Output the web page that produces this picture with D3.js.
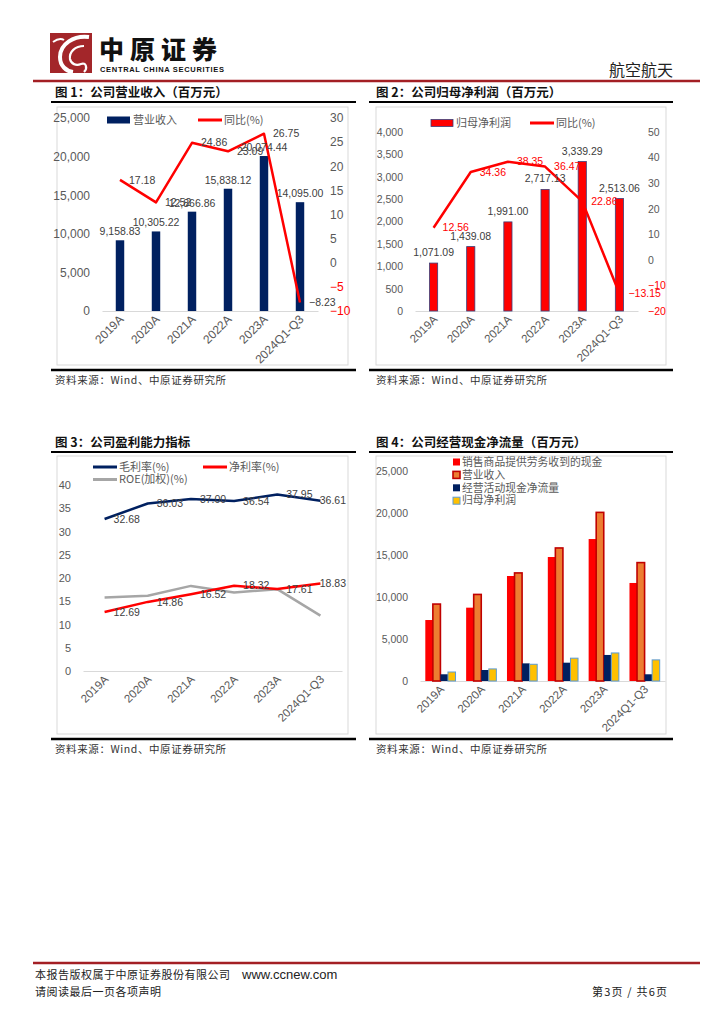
<!DOCTYPE html>
<html><head><meta charset="utf-8">
<script src="https://cdn.jsdelivr.net/npm/d3@7"></script>
<style>
body{margin:0;background:#fff;}
svg{display:block;}
</style></head><body>
<svg id="page" width="724" height="1024"></svg>
<script>
// ---------- DATA ----------
const categories = ["2019A","2020A","2021A","2022A","2023A","2024Q1-Q3"];
const revenue = [9158.83,10305.22,12866.86,15838.12,20074.44,14095.00];
const revenueYoY = [17.18,12.52,24.86,23.09,26.75,-8.23];
const netProfit = [1071.09,1439.08,1991.00,2717.13,3339.29,2513.06];
const netProfitYoY = [12.56,34.36,38.35,36.47,22.86,-13.15];
const grossMargin = [32.68,36.03,37.00,36.54,37.95,36.61];
const netMargin = [12.69,14.86,16.52,18.32,17.61,18.83];
const roe = [15.8,16.2,18.3,16.9,17.6,11.9];
const salesCash = [7260,8730,12500,14760,16900,11670];
const opCashFlow = [800,1310,2100,2180,3100,800];
const ticks1Left = [0,5000,10000,15000,20000,25000];
const ticks1Right = [-10,-5,0,5,10,15,20,25,30];
const ticks2Left = [0,500,1000,1500,2000,2500,3000,3500,4000];
const ticks2Right = [-20,-10,0,10,20,30,40,50];
const ticks3 = [0,5,10,15,20,25,30,35,40];
const ticks4 = [0,5000,10000,15000,20000,25000];

const SANS = '"Liberation Sans", Arial, sans-serif';
const CJK = '"Noto Sans CJK SC", sans-serif';
const NAVY = "#002060", RED = "#FF0000", GRAY = "#A6A6A6", TXT = "#595959", LBL = "#404040";
const fmt2 = d3.format(",.2f"), fmtInt = d3.format(",");

const svg = d3.select("#page");
svg.append("rect").attr("width",724).attr("height",1024).attr("fill","#fff");

// ---------- HEADER ----------
svg.append("rect").attr("x",50).attr("y",33).attr("width",42).attr("height",40).attr("fill","#A3262A");
svg.append("path").attr("d","M89 37 C74 35 60 44 60 57 C60 66 66 71 73 72").attr("fill","none").attr("stroke","#fff").attr("stroke-width",4);
svg.append("path").attr("d","M84 46 C75 46 69 52 70 59 C71 64 76 66 81 64 C86 62 88 68 84 72").attr("fill","none").attr("stroke","#fff").attr("stroke-width",2.2);
svg.append("path").attr("d","M53 42 C57 39 61 38 64 40").attr("fill","none").attr("stroke","#fff").attr("stroke-width",2);
svg.append("text").attr("x",99).attr("y",59).text("中原证券")
  .style("font-family",CJK).style("font-size","25px").style("font-weight",900).style("letter-spacing","6px").attr("fill","#111");
svg.append("text").attr("x",100).attr("y",72).text("CENTRAL CHINA SECURITIES").attr("textLength",124)
  .style("font-family",SANS).style("font-size","7.5px").style("font-weight","bold").attr("fill","#111");
svg.append("text").attr("x",609).attr("y",76).text("航空航天")
  .style("font-family",CJK).style("font-size","16px").attr("fill","#222");
svg.append("line").attr("x1",33).attr("x2",700).attr("y1",81).attr("y2",81).attr("stroke","#A31F24").attr("stroke-width",2.5);

// ---------- FOOTER ----------
svg.append("line").attr("x1",33).attr("x2",700).attr("y1",963).attr("y2",963).attr("stroke","#A31F24").attr("stroke-width",2.5);
svg.append("text").attr("x",35).attr("y",979).text("本报告版权属于中原证券股份有限公司")
  .style("font-family",CJK).style("font-size","11px").style("letter-spacing","0.5px").attr("fill","#222");
svg.append("text").attr("x",242).attr("y",979).text("www.ccnew.com")
  .style("font-family",SANS).style("font-size","13px").attr("fill","#222");
svg.append("text").attr("x",35).attr("y",996).text("请阅读最后一页各项声明")
  .style("font-family",CJK).style("font-size","11px").style("letter-spacing","0.5px").attr("fill","#222");
svg.append("text").attr("x",592).attr("y",996).text("第3页 / 共6页")
  .style("font-family",CJK).style("font-size","11px").style("letter-spacing","1.2px").attr("fill","#222");

// ---------- PANEL FRAMES ----------
function panel(opt){
  svg.append("text").attr("x",opt.tx).attr("y",opt.ty).text(opt.title)
    .style("font-family",CJK).style("font-size","12.5px").style("font-weight","bold").attr("fill","#111");
  svg.append("line").attr("x1",opt.lx1).attr("x2",opt.lx2).attr("y1",opt.ty+5).attr("y2",opt.ty+5).attr("stroke","#000").attr("stroke-width",2);
  svg.append("rect").attr("x",opt.fx1).attr("y",opt.fy1).attr("width",opt.fx2-opt.fx1).attr("height",opt.fy2-opt.fy1)
    .attr("fill","#fff").attr("stroke","#D9D9D9").attr("stroke-width",1);
  svg.append("line").attr("x1",opt.lx1).attr("x2",opt.lx2).attr("y1",opt.fy2+5).attr("y2",opt.fy2+5).attr("stroke","#000").attr("stroke-width",2.5);
  svg.append("text").attr("x",opt.tx).attr("y",opt.fy2+19).text("资料来源：Wind、中原证券研究所")
    .style("font-family",CJK).style("font-size","10.5px").style("letter-spacing","0.6px").attr("fill","#333");
}
panel({tx:55,ty:97,title:"图 1：公司营业收入（百万元）",lx1:51,lx2:356,fx1:57,fx2:348,fy1:107,fy2:365});
panel({tx:376,ty:97,title:"图 2：公司归母净利润（百万元）",lx1:369,lx2:673,fx1:376,fx2:666,fy1:107,fy2:365});
panel({tx:55,ty:447,title:"图 3：公司盈利能力指标",lx1:51,lx2:356,fx1:57,fx2:348,fy1:456,fy2:734});
panel({tx:376,ty:447,title:"图 4：公司经营现金净流量（百万元）",lx1:369,lx2:673,fx1:376,fx2:666,fy1:456,fy2:734});

// ---------- HELPERS ----------
function styleText(sel,size,fill){
  sel.style("font-family",SANS).style("font-size",size+"px").attr("fill",fill);
}
function leftAxis(scale,ticks,x,size,fmt){
  const g = svg.append("g").attr("transform",`translate(${x},0)`)
    .call(d3.axisLeft(scale).tickValues(ticks).tickSize(0).tickPadding(0).tickFormat(fmt));
  g.select(".domain").remove();
  styleText(g.selectAll("text"),size,TXT);
  return g;
}
function rightAxis(scale,ticks,x,size,redNeg){
  const g = svg.append("g").attr("transform",`translate(${x},0)`)
    .call(d3.axisRight(scale).tickValues(ticks).tickSize(0).tickPadding(0));
  g.select(".domain").remove();
  styleText(g.selectAll("text"),size,TXT);
  if(redNeg) g.selectAll("text").attr("fill",d=>d<0?RED:TXT);
  return g;
}
function xAxis(scale,y0,size){
  const g = svg.append("g").attr("transform",`translate(0,${y0})`)
    .call(d3.axisBottom(scale).tickSize(0).tickSizeOuter(0));
  g.select(".domain").attr("stroke","#D9D9D9");
  g.selectAll("text").attr("y",0).attr("dy",0).attr("x",0)
    .attr("transform","translate(4,9) rotate(-45)").style("text-anchor","end");
  styleText(g.selectAll("text"),size,TXT);
  return g;
}
function lineLabels(xs,ys,vals,fill,size,maxX,fmt){
  const t = svg.append("g").selectAll("text").data(vals).join("text")
    .attr("x",(d,i)=>xs(categories[i])+9).attr("y",(d,i)=>ys(d)).attr("dy","0.35em")
    .text(d=>fmt(d));
  styleText(t,size,fill);
  t.each(function(){
    const w = this.getComputedTextLength();
    const x = +this.getAttribute("x");
    if(x+w>maxX) this.setAttribute("x",maxX-w);
  });
}
function legendLine(x,y,color,label,size){
  svg.append("line").attr("x1",x).attr("x2",x+24).attr("y1",y).attr("y2",y).attr("stroke",color).attr("stroke-width",3);
  svg.append("text").attr("x",x+26).attr("y",y).attr("dy","0.35em").text(label)
    .style("font-family",CJK).style("font-size",size+"px").attr("fill",TXT);
}

// ---------- CHART 1 ----------
{
  const x = d3.scalePoint().domain(categories).range([102,318]).padding(0.5);
  const yL = d3.scaleLinear().domain([0,25000]).range([311,118]);
  const yR = d3.scaleLinear().domain([-10,30]).range([311,118]);
  const bw = x.step()*0.235;
  leftAxis(yL,ticks1Left,90,12,fmtInt);
  rightAxis(yR,ticks1Right,330,12,true);
  xAxis(x,311,12);
  svg.append("g").selectAll("rect").data(revenue).join("rect")
    .attr("x",(d,i)=>x(categories[i])-bw/2).attr("y",d=>yL(d))
    .attr("width",bw).attr("height",d=>yL(0)-yL(d)).attr("fill",NAVY);
  svg.append("path").datum(revenueYoY)
    .attr("d",d3.line().x((d,i)=>x(categories[i])).y(d=>yR(d)))
    .attr("fill","none").attr("stroke",RED).attr("stroke-width",2.5).attr("stroke-linejoin","round");
  const bl = svg.append("g").selectAll("text").data(revenue).join("text")
    .attr("x",(d,i)=>x(categories[i])).attr("y",d=>yL(d)-5).attr("text-anchor","middle").text(d=>fmt2(d));
  styleText(bl,10.5,LBL);
  lineLabels(x,yR,revenueYoY,LBL,10.5,346,d3.format(".2f"));
  svg.append("rect").attr("x",107).attr("y",116.5).attr("width",23).attr("height",7).attr("fill",NAVY);
  svg.append("text").attr("x",133).attr("y",120).attr("dy","0.35em").text("营业收入")
    .style("font-family",CJK).style("font-size","11px").attr("fill",TXT);
  legendLine(198,120,RED,"同比(%)",11);
}

// ---------- CHART 2 ----------
{
  const x = d3.scalePoint().domain(categories).range([415,638]).padding(0.5);
  const yL = d3.scaleLinear().domain([0,4000]).range([311,132]);
  const yR = d3.scaleLinear().domain([-20,50]).range([311,132]);
  const bw = x.step()*0.22;
  leftAxis(yL,ticks2Left,403,10.5,fmtInt);
  rightAxis(yR,ticks2Right,648,10.5,true);
  xAxis(x,311,11.5);
  svg.append("g").selectAll("rect").data(netProfit).join("rect")
    .attr("x",(d,i)=>x(categories[i])-bw/2).attr("y",d=>yL(d))
    .attr("width",bw).attr("height",d=>yL(0)-yL(d)).attr("fill",RED)
    .attr("stroke","#3A3F7A").attr("stroke-width",0.8);
  svg.append("path").datum(netProfitYoY)
    .attr("d",d3.line().x((d,i)=>x(categories[i])).y(d=>yR(d)))
    .attr("fill","none").attr("stroke",RED).attr("stroke-width",2.5).attr("stroke-linejoin","round");
  const bl = svg.append("g").selectAll("text").data(netProfit).join("text")
    .attr("x",(d,i)=>x(categories[i])).attr("y",d=>yL(d)-7).attr("text-anchor","middle").text(d=>fmt2(d));
  styleText(bl,10.5,LBL);
  lineLabels(x,yR,netProfitYoY,RED,10.5,664,d3.format(".2f"));
  svg.append("rect").attr("x",431).attr("y",119.5).attr("width",22).attr("height",7).attr("fill",RED).attr("stroke","#3A3F7A").attr("stroke-width",0.8);
  svg.append("text").attr("x",456).attr("y",123).attr("dy","0.35em").text("归母净利润")
    .style("font-family",CJK).style("font-size","11px").attr("fill",TXT);
  legendLine(530,123,RED,"同比(%)",11);
}

// ---------- CHART 3 ----------
{
  const x = d3.scalePoint().domain(categories).range([83,342]).padding(0.5);
  const y = d3.scaleLinear().domain([0,40]).range([671,485]);
  leftAxis(y,ticks3,71,11,d3.format("d"));
  xAxis(x,671,11.5);
  const series = [[roe,GRAY],[netMargin,RED],[grossMargin,NAVY]];
  series.forEach(([vals,col])=>{
    svg.append("path").datum(vals)
      .attr("d",d3.line().x((d,i)=>x(categories[i])).y(d=>y(d)))
      .attr("fill","none").attr("stroke",col).attr("stroke-width",2.5).attr("stroke-linejoin","round");
  });
  lineLabels(x,y,grossMargin,LBL,10.5,346,d3.format(".2f"));
  lineLabels(x,y,netMargin,LBL,10.5,346,d3.format(".2f"));
  legendLine(93,467,NAVY,"毛利率(%)",11);
  legendLine(203,467,RED,"净利率(%)",11);
  legendLine(93,479.5,GRAY,"ROE(加权)(%)",11);
}

// ---------- CHART 4 ----------
{
  const x = d3.scalePoint().domain(categories).range([420,665]).padding(0.5);
  const y = d3.scaleLinear().domain([0,25000]).range([681,471]);
  const seriesNames = ["销售商品提供劳务收到的现金","营业收入","经营活动现金净流量","归母净利润"];
  const seriesVals = [salesCash,revenue,opCashFlow,netProfit];
  const fills = [RED,"#ED7D31",NAVY,"#FFC000"];
  const strokes = ["none","#C00000","none","#5B9BD5"];
  const sw = [0,1.6,0,1];
  const inner = d3.scaleBand().domain(seriesNames).range([-x.step()*0.37,x.step()*0.37]);
  leftAxis(y,ticks4,408,10.5,fmtInt);
  xAxis(x,681,11.5);
  seriesNames.forEach((name,k)=>{
    svg.append("g").selectAll("rect").data(seriesVals[k]).join("rect")
      .attr("x",(d,i)=>x(categories[i])+inner(name)).attr("y",d=>y(d))
      .attr("width",inner.bandwidth()).attr("height",d=>y(0)-y(d))
      .attr("fill",fills[k]).attr("stroke",strokes[k]).attr("stroke-width",sw[k]);
  });
  seriesNames.forEach((name,k)=>{
    const ly = 462 + k*12.9;
    svg.append("rect").attr("x",453).attr("y",ly-3.5).attr("width",7).attr("height",7)
      .attr("fill",fills[k]).attr("stroke",strokes[k]).attr("stroke-width",sw[k]);
    svg.append("text").attr("x",462).attr("y",ly).attr("dy","0.35em").text(name)
      .style("font-family",CJK).style("font-size","10.8px").attr("fill",TXT);
  });
}
</script>
</body></html>
